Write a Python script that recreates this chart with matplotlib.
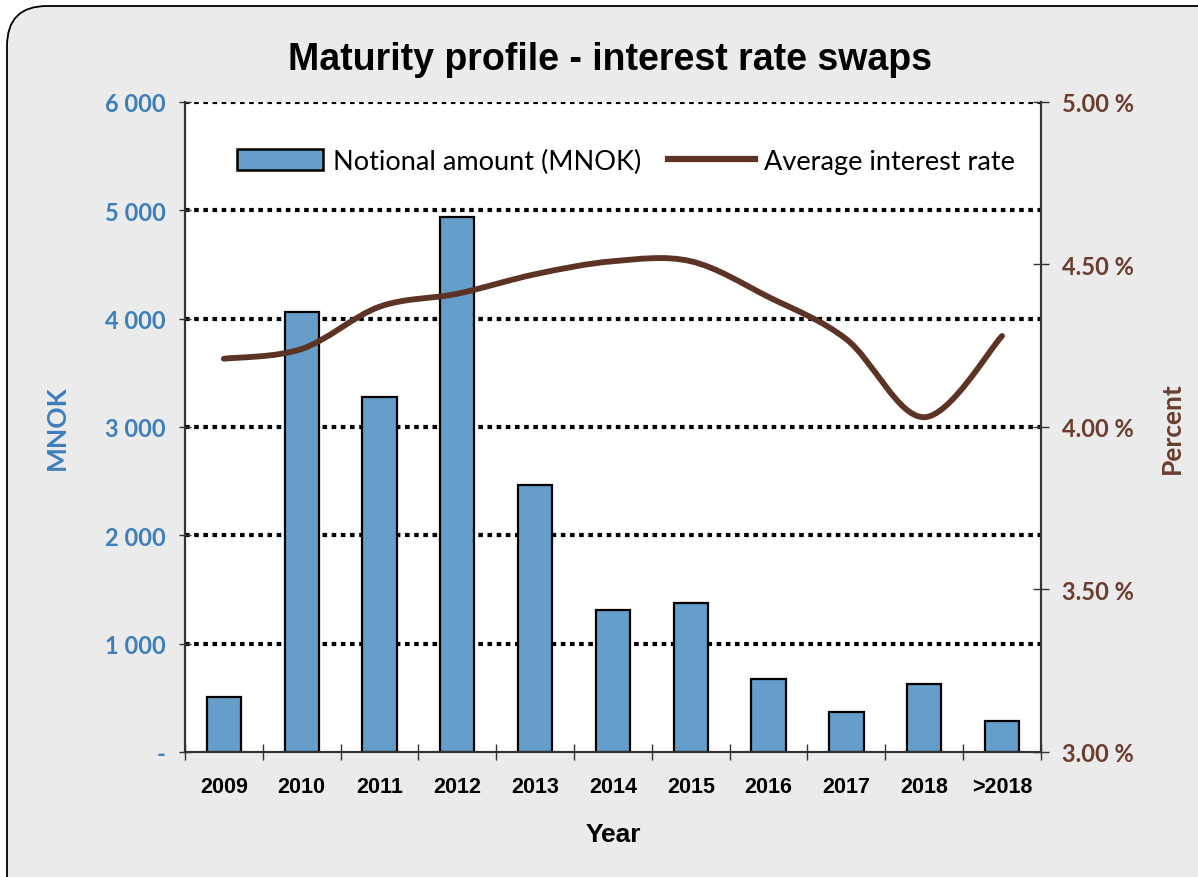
import matplotlib
matplotlib.use("Agg")
import matplotlib.pyplot as plt
from matplotlib.patches import FancyBboxPatch, PathPatch, Patch
from matplotlib.lines import Line2D
from matplotlib.path import Path

# data
years = ["2009", "2010", "2011", "2012", "2013", "2014", "2015", "2016", "2017", "2018", ">2018"]
notional = [505, 4060, 3280, 4940, 2465, 1310, 1375, 675, 370, 630, 285]
avg_rate = [4.21, 4.24, 4.37, 4.41, 4.47, 4.51, 4.51, 4.40, 4.27, 4.03, 4.28]

left_ticks = [0, 1000, 2000, 3000, 4000, 5000, 6000]
left_labels = ["-", "1 000", "2 000", "3 000", "4 000", "5 000", "6 000"]
right_ticks = [3.0, 3.5, 4.0, 4.5, 5.0]
right_labels = ["3.00 %", "3.50 %", "4.00 %", "4.50 %", "5.00 %"]

bar_col = "#659ECA"
line_col = "#5C3324"
blue_txt = "#3D7EBB"
brown_txt = "#6B3D2E"
spine_col = "#333333"
calib = ["Lato", "DejaVu Sans"]
arial = ["Liberation Sans", "DejaVu Sans"]

fig = plt.figure(figsize=(11.98, 8.78), dpi=100)
fig.patch.set_facecolor("white")

# rounded grey frame behind everything
frame = FancyBboxPatch((0.07, -0.5), 13.0, 8.71 + 0.5,
                       boxstyle="round,pad=0,rounding_size=0.4",
                       transform=fig.dpi_scale_trans, facecolor="#EBEBEB",
                       edgecolor="black", linewidth=1.3, zorder=-10)
fig.patches.append(frame)

ax = fig.add_axes([0.1544, 0.1424, 0.7145, 0.7403])
ax.set_facecolor("white")
x = list(range(len(years)))
ax.bar(x, notional, width=0.44, color=bar_col, edgecolor="black", linewidth=1.6, zorder=2)
ax.set_xlim(-0.5, len(years) - 0.5)
ax.set_ylim(0, 6000)
ax.set_axisbelow(True)
ax.yaxis.grid(True, color="black", linestyle=(0, (1.1, 1.1)), linewidth=3.0)
ax.set_yticks(left_ticks)
ax.set_yticklabels(left_labels, family=calib, fontweight="bold", fontsize=17, color=blue_txt)
ax.tick_params(axis="y", direction="inout", length=8, width=1, colors=spine_col, pad=10)
for t in ax.get_yticklabels():
    t.set_color(blue_txt)
ax.get_ygridlines()[0].set_visible(False)

ax.set_xticks([i - 0.5 for i in range(len(years) + 1)], minor=False)
ax.set_xticklabels([])
ax.set_xticks(x, minor=True)
ax.set_xticklabels(years, minor=True, family=arial, fontweight="bold", fontsize=15.5)
ax.tick_params(axis="x", which="major", direction="inout", length=11, width=1, colors=spine_col)
ax.tick_params(axis="x", which="minor", length=0, pad=17)
ax.set_xlabel("Year", family=arial, fontweight="bold", fontsize=19, labelpad=18)
ax.set_ylabel("MNOK", family=calib, fontweight="bold", fontsize=19, color=blue_txt, labelpad=26)

for side in ["left", "right", "bottom"]:
    ax.spines[side].set_color(spine_col)
    ax.spines[side].set_linewidth(1.5)
ax.spines["top"].set_visible(False)

ax2 = ax.twinx()
ax2.set_ylim(3.0, 5.0)
ax2.set_yticks(right_ticks)
ax2.set_yticklabels(right_labels, family=calib, fontweight="bold", fontsize=17, color=brown_txt)
ax2.tick_params(axis="y", direction="inout", length=11, width=1, colors=spine_col, pad=10)
for t in ax2.get_yticklabels():
    t.set_color(brown_txt)
ax2.set_ylabel("Percent", family=calib, fontweight="bold", fontsize=19, color=brown_txt,
               rotation=90, labelpad=18)
for side in ["left", "right", "bottom"]:
    ax2.spines[side].set_color(spine_col)
    ax2.spines[side].set_linewidth(1.5)
ax2.spines["top"].set_visible(False)

# smooth line like the spreadsheet one: bezier segments through the points
pts = list(zip(x, avg_rate))
verts = [pts[0]]
codes = [Path.MOVETO]
for i in range(len(pts) - 1):
    p0 = pts[i - 1] if i > 0 else pts[i]
    p1 = pts[i]
    p2 = pts[i + 1]
    p3 = pts[i + 2] if i + 2 < len(pts) else pts[i + 1]
    c1 = (p1[0] + (p2[0] - p0[0]) / 6, p1[1] + (p2[1] - p0[1]) / 6)
    c2 = (p2[0] - (p3[0] - p1[0]) / 6, p2[1] - (p3[1] - p1[1]) / 6)
    verts += [c1, c2, p2]
    codes += [Path.CURVE4] * 3
curve = PathPatch(Path(verts, codes), facecolor="none", edgecolor=line_col,
                  linewidth=4.2, capstyle="round", joinstyle="round", zorder=3)
ax2.add_patch(curve)

handles = [Patch(facecolor=bar_col, edgecolor="black", linewidth=1.8),
           Line2D([0], [0], color=line_col, linewidth=4.5)]
ax2.legend(handles, ["Notional amount (MNOK)", "Average interest rate"],
           loc="center", bbox_to_anchor=(0.515, 0.909), ncol=2, frameon=False,
           prop={"family": calib, "size": 19.5}, handlelength=3.2, handleheight=0.85,
           handletextpad=0.35, columnspacing=1.0)

fig.text(0.509, 0.932, "Maturity profile - interest rate swaps", ha="center", va="center",
         family=arial, fontweight="bold", fontsize=27)

fig.savefig("out.png", dpi=100, facecolor=fig.get_facecolor())
